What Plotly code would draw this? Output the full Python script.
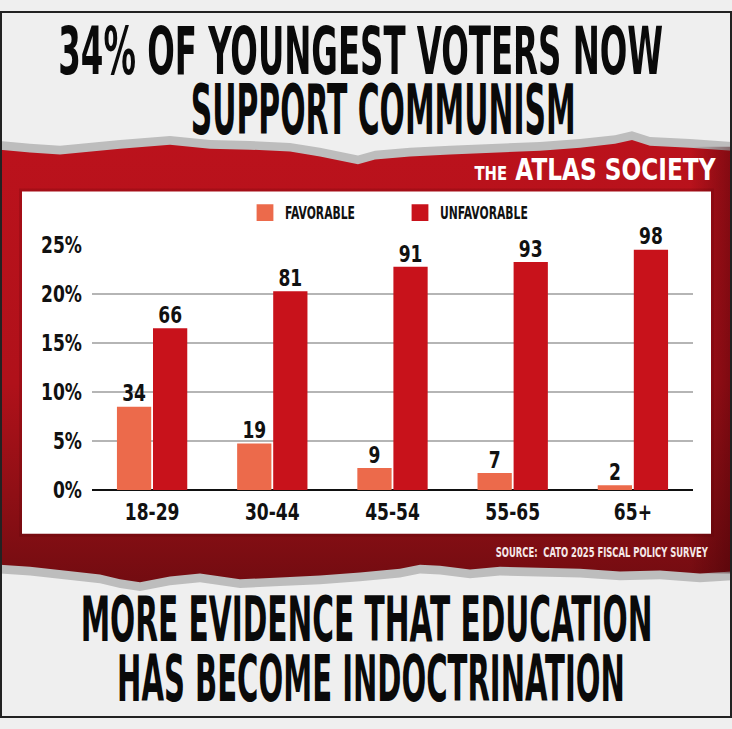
import json
import plotly.graph_objects as go

# ---- data ----
age_groups = ["18-29", "30-44", "45-54", "55-65", "65+"]
favorable = [34, 19, 9, 7, 2]
unfavorable = [66, 81, 91, 93, 98]
y_tick_values = [0, 20, 40, 60, 80, 100]
y_tick_labels = ["0%", "5%", "10%", "15%", "20%", "25%"]

W, H = 732, 729
FONT = "DejaVu Sans Condensed, DejaVu Sans, sans-serif"

def px(x):
    return x / W

def py(y):
    return 1 - y / H

fig = go.Figure()

# ---- decorative background drawn in a full-page pixel axis (x, y) ----
top_edge = [(0, 143), (30, 146), (60, 148), (90, 145), (120, 142), (170, 138), (210, 142),
            (250, 143), (290, 145), (320, 150), (345, 155), (358, 158), (375, 153), (410, 150),
            (450, 148), (500, 146), (540, 144), (580, 141), (615, 137), (632, 133), (650, 139),
            (690, 141), (732, 144)]
bottom_edge = [(732, 578), (700, 580), (660, 577), (620, 578), (580, 575), (540, 574),
               (500, 573), (470, 576), (440, 572), (420, 571), (400, 575), (360, 579),
               (320, 582), (280, 584), (240, 586), (200, 580), (170, 583), (140, 589),
               (120, 586), (100, 581), (60, 576), (30, 573), (0, 571)]

def deco(points, **kw):
    xs = [p[0] for p in points] + [points[0][0]]
    ys = [p[1] for p in points] + [points[0][1]]
    fig.add_trace(go.Scatter(x=xs, y=ys, xaxis="x", yaxis="y", mode="lines",
                             line=dict(width=0), fill="toself", hoverinfo="skip",
                             showlegend=False, **kw))

deco([(x, y - 9) for x, y in top_edge] + [(732, 300), (0, 300)], fillcolor="#bdbdbd")
deco([(0, 400), (732, 400)] + [(x, y + 9) for x, y in bottom_edge], fillcolor="#bdbdbd")
deco(top_edge + bottom_edge, fillcolor="#b3121a",
     fillgradient=dict(type="vertical",
                       colorscale=[[0, "#730c11"], [0.2, "#8f0f15"], [0.45, "#b0111a"], [1, "#bb121c"]]))
deco([(690, 140), (732, 140), (732, 580), (690, 580)], fillcolor="rgba(60,0,5,0.2)",
     fillgradient=dict(type="horizontal",
                       colorscale=[[0, "rgba(60,0,5,0)"], [1, "rgba(60,0,5,0.45)"]]))
deco([(19, 183), (714, 183), (714, 542), (19, 542)], fillcolor="rgba(80,0,8,0.18)")
deco([(22, 186), (711, 186), (711, 539), (22, 539)], fillcolor="white")

# ---- bar chart (x2, y2) ----
fig.add_trace(go.Bar(
    x=age_groups, y=favorable, name="FAVORABLE", xaxis="x2", yaxis="y2",
    marker=dict(color="#ec6a4b", line=dict(width=0)),
    text=[str(v) for v in favorable], textposition="outside",
    textfont=dict(family=FONT, size=19, color="#111111", weight="bold"),
    cliponaxis=False,
))
fig.add_trace(go.Bar(
    x=age_groups, y=unfavorable, name="UNFAVORABLE", xaxis="x2", yaxis="y2",
    marker=dict(color="#c8121b", line=dict(width=0)),
    text=[str(v) for v in unfavorable], textposition="outside",
    textfont=dict(family=FONT, size=19, color="#111111", weight="bold"),
    cliponaxis=False,
))

shapes = [
    dict(type="rect", xref="paper", yref="paper", x0=px(1), x1=px(731), y0=py(728), y1=py(1),
         fillcolor="rgba(0,0,0,0)", line=dict(color="#222222", width=2), layer="above"),
]

# headline / footer texts; (target width, cap height) used for condensing
texts = [
    ("34% OF YOUNGEST VOTERS NOW", 360, 41, "center", 605, 48, 40, "#0a0a0a", FONT, "bold"),
    ("SUPPORT COMMUNISM", 383, 102, "center", 385, 50, 40, "#0a0a0a", FONT, "bold"),
    ("MORE EVIDENCE THAT EDUCATION", 366, 627, "center", 572, 45, 40, "#0a0a0a", FONT, "bold"),
    ("HAS BECOME INDOCTRINATION", 371, 689, "center", 508, 46, 40, "#0a0a0a", FONT, "bold"),
    ("SOURCE:  CATO 2025 FISCAL POLICY SURVEY", 711, 558, "right", 213, 10, 11, "#f5e8e8", FONT, "bold"),
    ("<span style='font-size:16px'>THE</span> ATLAS SOCIETY", 718, 163, "right", 242, 22, 25,
     "#ffffff", "DejaVu Sans, sans-serif", "bold"),
]
annotations = []
fit_targets = []
for i, (t, x, y, anchor, tw, cap, size, col, fam, wt) in enumerate(texts):
    annotations.append(dict(text=t, x=px(x), y=py(y), xref="paper", yref="paper",
                            xanchor=anchor, yanchor="middle", showarrow=False,
                            font=dict(family=fam, size=size, color=col, weight=wt)))
    fit_targets.append([i, tw, cap, anchor])

fig.update_layout(
    width=W, height=H, autosize=False,
    margin=dict(l=0, r=0, t=0, b=0, pad=0),
    paper_bgcolor="#efefef", plot_bgcolor="rgba(0,0,0,0)",
    barmode="group", bargap=0.4, bargroupgap=0.05,
    shapes=shapes, annotations=annotations,
    showlegend=True,
    legend=dict(orientation="h", x=px(245), y=py(208), xanchor="left", yanchor="middle",
                font=dict(family=FONT, size=12, color="#111111", weight="bold"),
                bgcolor="rgba(0,0,0,0)", entrywidth=110, traceorder="normal"),
    xaxis=dict(domain=[0, 1], range=[0, W], visible=False, fixedrange=True),
    yaxis=dict(domain=[0, 1], range=[H, 0], visible=False, fixedrange=True),
    xaxis2=dict(domain=[px(92), px(693)], anchor="y2", showline=False, ticks="", showgrid=False,
                ticklabelstandoff=8,
                tickfont=dict(family=FONT, size=19, color="#111111", weight="bold")),
    yaxis2=dict(domain=[py(494), py(241)], anchor="x2", range=[0, 100], tickvals=y_tick_values,
                ticktext=y_tick_labels, showgrid=True, gridcolor="#b5b5b5", gridwidth=1.5,
                zeroline=True, zerolinecolor="#111111", zerolinewidth=2, showline=False,
                ticks="", ticklabelstandoff=9,
                tickfont=dict(family=FONT, size=19, color="#111111", weight="bold")),
)

post = """
document.body.style.margin = '0';
document.body.style.overflow = 'hidden';
var targets = %s;
function scaleEl(el, sx, sy, anchor) {
  var bb = el.getBBox();
  var lx = anchor === 'right' ? bb.x + bb.width : bb.x + bb.width / 2;
  var ly = bb.y + bb.height / 2;
  var cx = lx, cy = ly;
  var c = el.transform && el.transform.baseVal ? el.transform.baseVal.consolidate() : null;
  if (c) {
    var m = c.matrix;
    cx = m.a * lx + m.c * ly + m.e;
    cy = m.b * lx + m.d * ly + m.f;
  }
  var old = el.getAttribute('transform') || '';
  el.setAttribute('transform', 'translate(' + cx + ',' + cy + ') scale(' + sx + ',' + sy +
                  ') translate(' + (-cx) + ',' + (-cy) + ') ' + old);
}
targets.forEach(function (tg) {
  var a = document.querySelector('g.annotation[data-index="' + tg[0] + '"] text.annotation-text');
  if (!a) return;
  var bb = a.getBBox();
  scaleEl(a, tg[1] / bb.width, tg[2] / (0.626 * bb.height), tg[3]);
});
function stretch(sel, sx, sy) {
  document.querySelectorAll(sel).forEach(function (el) { scaleEl(el, sx, sy, 'center'); });
}
stretch('g.x2tick text, g.y2tick text, text.bartext', 1, 1.25);
stretch('g.legend text.legendtext', 1, 1.45);
stretch('g.legend g.legendpoints path', 1.4, 1.4);
""" % json.dumps(fit_targets)

fig.write_html("out.html", post_script=post, config={"displayModeBar": False})
